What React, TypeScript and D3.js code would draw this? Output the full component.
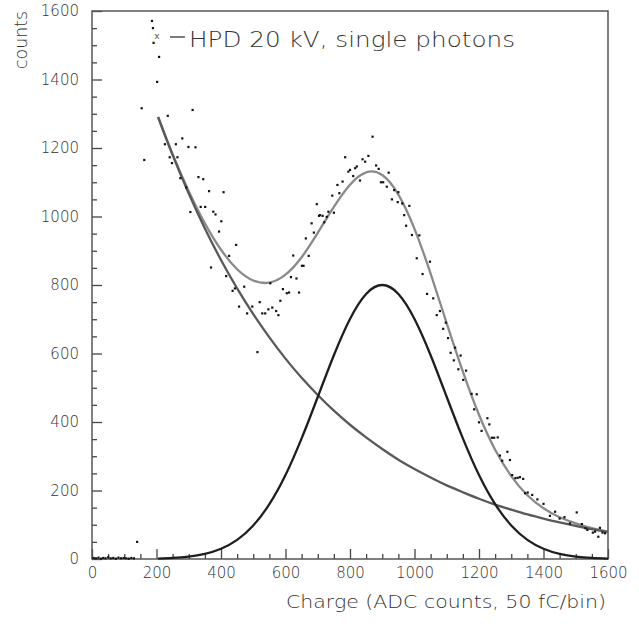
import * as d3 from 'd3';
import React, { useEffect, useRef } from 'react';

// measured spectrum: [charge (ADC counts), counts]
const spectrum: [number, number][] = [
  [5, 3], [12, 2], [20, 4], [28, 1], [35, 3], [42, 2], [50, 5], [58, 2], [66, 3], [74, 1],
  [82, 4], [90, 2], [98, 3], [106, 2], [114, 1], [122, 3], [130, 2], [140, 50],
  [154, 1316], [162, 1165], [186, 1571], [189, 1550], [191, 1507], [202, 1393], [208, 1466],
  [226, 1211], [235, 1294], [241, 1173], [248, 1156], [260, 1211], [265, 1173], [274, 1112],
  [280, 1228], [292, 1085], [299, 1203], [305, 1013], [312, 1311], [321, 1202], [330, 1115],
  [337, 1028], [345, 1109], [351, 1028], [363, 1074], [369, 851], [376, 1014], [383, 1006],
  [394, 956], [401, 986], [408, 1071], [416, 826], [425, 885], [436, 783], [443, 790],
  [447, 917], [456, 737], [472, 795], [481, 717], [497, 737], [513, 604], [520, 750],
  [528, 717], [537, 717], [547, 729], [553, 805], [559, 734], [571, 724], [578, 712],
  [584, 754], [592, 788], [604, 776], [611, 778], [617, 823], [624, 886], [634, 819],
  [642, 778], [651, 856], [656, 856], [663, 936], [672, 885], [681, 980], [688, 953],
  [697, 1036], [704, 1002], [707, 1004], [715, 1002], [720, 983], [728, 999], [733, 1014],
  [745, 1061], [750, 1011], [761, 1092], [767, 1068], [777, 1102], [785, 1173], [795, 1131],
  [800, 1136], [810, 1118], [816, 1141], [821, 1146], [831, 1105], [839, 1167], [847, 1160],
  [857, 1177], [870, 1233], [881, 1149], [889, 1139], [896, 1100], [903, 1100], [914, 1087],
  [920, 1128], [930, 1050], [937, 1077], [948, 1042], [950, 1071], [962, 1038], [968, 1004],
  [974, 973], [984, 1031], [992, 946], [1007, 878], [1015, 945], [1025, 832], [1039, 774],
  [1048, 868], [1058, 761], [1069, 712], [1079, 724], [1089, 672], [1097, 690], [1104, 645],
  [1112, 602], [1122, 580], [1126, 617], [1136, 554], [1143, 594], [1151, 523], [1160, 550],
  [1177, 482], [1185, 437], [1193, 481], [1200, 399], [1208, 374], [1226, 411], [1232, 393],
  [1240, 354], [1247, 354], [1258, 355], [1265, 302], [1272, 287], [1288, 313], [1296, 289],
  [1303, 245], [1313, 236], [1320, 237], [1327, 239], [1337, 234], [1343, 192], [1351, 194],
  [1365, 187], [1381, 174], [1400, 161], [1420, 126], [1436, 138], [1450, 118], [1465, 122],
  [1482, 104], [1503, 136], [1519, 102], [1530, 90], [1536, 85], [1553, 77], [1560, 80],
  [1570, 65], [1575, 91], [1583, 77], [1591, 75],
];

// fit curves
const fitCharge = [205, 250, 300, 350, 400, 450, 500, 550, 600, 650, 700, 750, 800, 850, 900,
  950, 1000, 1050, 1100, 1150, 1200, 1250, 1300, 1350, 1400, 1450, 1500, 1550, 1600];
const backgroundFit = [1290, 1179, 1067, 965, 873, 790, 715, 647, 585, 529, 479, 433, 392, 355, 321,
  290, 263, 238, 215, 195, 176, 159, 144, 130, 118, 107, 97, 87, 79];
const peakFit = [1, 3, 7, 15, 30, 56, 98, 160, 245, 352, 473, 595, 701, 774, 800,
  774, 701, 595, 473, 352, 245, 160, 98, 56, 30, 15, 7, 3, 1];
const totalFit = [1291, 1182, 1074, 980, 903, 846, 813, 807, 830, 881, 952, 1028, 1093, 1129, 1121,
  1064, 964, 833, 688, 547, 421, 319, 242, 186, 148, 122, 104, 90, 80];

const majorTicks = [0, 200, 400, 600, 800, 1000, 1200, 1400, 1600];

const FONT = '"DejaVu Sans", sans-serif';

export default function App() {
  const ref = useRef<SVGSVGElement>(null);

  useEffect(() => {
    if (!ref.current) return;
    const width = 639;
    const height = 626;
    const left = 92, right = 608, top = 11, bottom = 559;

    const svg = d3.select(ref.current);
    svg.selectAll('*').remove();
    svg.attr('width', width).attr('height', height);

    const x = d3.scaleLinear().domain([0, 1600]).range([left, right]);
    const y = d3.scaleLinear().domain([0, 1600]).range([bottom, top]);

    const minorTicks = d3.range(0, 1601, 50).filter(v => v % 200 !== 0);

    // axes, ticks pointing into the frame
    const gx = svg.append('g').attr('transform', `translate(0,${bottom})`);
    gx.call(d3.axisBottom(x).tickValues(majorTicks).tickSize(-10).tickPadding(8).tickFormat(d3.format('d')));
    gx.append('g').call(d3.axisBottom(x).tickValues(minorTicks).tickSize(-5).tickFormat(() => ''));

    const gy = svg.append('g').attr('transform', `translate(${left},0)`);
    gy.call(d3.axisLeft(y).tickValues(majorTicks).tickSize(-10).tickPadding(13).tickFormat(d3.format('d')));
    gy.append('g').call(d3.axisLeft(y).tickValues(minorTicks).tickSize(-5).tickFormat(() => ''));

    svg.selectAll('.domain').remove();
    svg.selectAll('.tick line').attr('stroke', '#444').attr('stroke-width', 1.3);
    svg.selectAll('.tick text')
      .attr('fill', '#333')
      .style('font-family', FONT)
      .style('font-size', '15px')
      .style('font-weight', 300);

    // frame
    svg.append('rect')
      .attr('x', left).attr('y', top)
      .attr('width', right - left).attr('height', bottom - top)
      .attr('fill', 'none').attr('stroke', '#555').attr('stroke-width', 1.5);

    const line = d3.line<number>()
      .x((_, i) => x(fitCharge[i]))
      .y(d => y(d))
      .curve(d3.curveNatural);

    svg.append('path').attr('d', line(totalFit))
      .attr('fill', 'none').attr('stroke', '#8a8a8a').attr('stroke-width', 2.3);
    svg.append('path').attr('d', line(backgroundFit))
      .attr('fill', 'none').attr('stroke', '#595959').attr('stroke-width', 2.3);
    svg.append('path').attr('d', line(peakFit))
      .attr('fill', 'none').attr('stroke', '#1e1e1e').attr('stroke-width', 2.3);

    svg.append('g').selectAll('rect')
      .data(spectrum)
      .enter()
      .append('rect')
      .attr('x', d => x(d[0]) - 1.1)
      .attr('y', d => y(d[1]) - 1.1)
      .attr('width', 2.2)
      .attr('height', 2.2)
      .attr('fill', '#111');

    // legend
    svg.append('text')
      .attr('x', 157).attr('y', 39)
      .attr('text-anchor', 'middle')
      .attr('fill', '#555')
      .style('font-family', FONT).style('font-size', '9px')
      .text('x');
    svg.append('line')
      .attr('x1', 170).attr('x2', 185).attr('y1', 37).attr('y2', 37)
      .attr('stroke', '#444').attr('stroke-width', 1.4);
    svg.append('text')
      .attr('x', 189).attr('y', 47)
      .attr('fill', '#333')
      .attr('textLength', 326).attr('lengthAdjust', 'spacingAndGlyphs')
      .style('font-family', FONT).style('font-size', '21px').style('font-weight', 300)
      .text('HPD 20 kV, single photons');

    // axis titles
    svg.append('text')
      .attr('x', 286).attr('y', 608)
      .attr('fill', '#333')
      .attr('textLength', 320).attr('lengthAdjust', 'spacingAndGlyphs')
      .style('font-family', FONT).style('font-size', '17px').style('font-weight', 300)
      .text('Charge (ADC counts, 50 fC/bin)');
    svg.append('text')
      .attr('transform', 'translate(27,40) rotate(-90)')
      .attr('text-anchor', 'middle')
      .attr('fill', '#333')
      .attr('textLength', 58).attr('lengthAdjust', 'spacingAndGlyphs')
      .style('font-family', FONT).style('font-size', '17px').style('font-weight', 300)
      .text('counts');
  }, []);

  return <svg ref={ref} style={{ position: 'absolute', left: 0, top: 0, background: '#fff' }} />;
}
